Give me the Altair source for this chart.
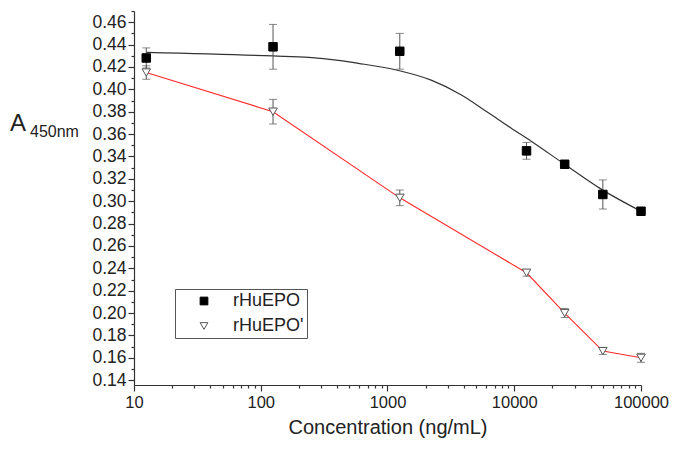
import altair as alt
import pandas as pd

FONT = "Liberation Sans"

series_names = ["rHuEPO", "rHuEPO'"]
conc = [12.5, 125, 1250, 12500, 25000, 50000, 100000]
epo_val = [0.428, 0.438, 0.434, 0.345, 0.333, 0.306, 0.291]
epo_err = [0.009, 0.020, 0.016, 0.0075, 0.002, 0.013, 0.001]
epo2_val = [0.415, 0.380, 0.303, 0.236, 0.200, 0.166, 0.160]
epo2_err = [0.006, 0.011, 0.007, 0.003, 0.004, 0.003, 0.004]

fit_conc = [12.5, 125, 240, 410, 590, 1220, 2210, 3830, 6210, 9470, 13600, 24300, 48100, 100000]
fit_val = [0.433, 0.4298, 0.4285, 0.4258, 0.4232, 0.4168, 0.4082, 0.3950, 0.3792, 0.3652, 0.3536, 0.3339, 0.3110, 0.2910]

x_ticks = [10, 20, 30, 40, 50, 60, 70, 80, 90,
           100, 200, 300, 400, 500, 600, 700, 800, 900,
           1000, 2000, 3000, 4000, 5000, 6000, 7000, 8000, 9000,
           10000, 20000, 30000, 40000, 50000, 60000, 70000, 80000, 90000, 100000]
y_ticks = [0.14, 0.15, 0.16, 0.17, 0.18, 0.19, 0.20, 0.21, 0.22, 0.23, 0.24, 0.25,
           0.26, 0.27, 0.28, 0.29, 0.30, 0.31, 0.32, 0.33, 0.34, 0.35, 0.36, 0.37,
           0.38, 0.39, 0.40, 0.41, 0.42, 0.43, 0.44, 0.45, 0.46, 0.47]

pts = pd.DataFrame({
    "conc": conc + conc,
    "val": epo_val + epo2_val,
    "err": epo_err + epo2_err,
    "series": [series_names[0]] * len(conc) + [series_names[1]] * len(conc),
})
pts["lo"] = pts["val"] - pts["err"]
pts["hi"] = pts["val"] + pts["err"]
fit = pd.DataFrame({"conc": fit_conc, "val": fit_val})
red = pts[pts["series"] == series_names[1]]

xs = alt.Scale(type="log", domain=[10, 100000], nice=False)
ys = alt.Scale(domain=[0.1357, 0.47], nice=False, zero=False)

dec_test = "indexof([10,100,1000,10000,100000], datum.value) >= 0"
ymaj_test = "abs(datum.value*50 - round(datum.value*50)) < 0.001"

x_axis = alt.Axis(
    values=x_ticks, grid=False, title="Concentration (ng/mL)",
    labelExpr=f"{dec_test} ? format(datum.value, 'd') : ''",
    tickSize={"condition": {"test": dec_test, "value": 6}, "value": 3},
    labelOverlap=False, labelFlush=False, labelPadding=3, labelBound=False,
    labelFontSize=16.5, labelFont=FONT, labelColor="#222",
    titleFontSize=20, titleFont=FONT, titleFontWeight="normal", titleColor="#222",
    titlePadding=7,
    domainColor="#333", tickColor="#333", domainWidth=1.2, tickWidth=1.2,
)
y_axis = alt.Axis(
    values=y_ticks, grid=False, title=None,
    labelExpr=f"{ymaj_test} ? format(datum.value, '.2f') : ''",
    tickSize={"condition": {"test": ymaj_test, "value": 6}, "value": 3},
    labelOverlap=False, labelFlush=False, labelPadding=2, labelBound=False,
    labelFontSize=17.5, labelFont=FONT, labelColor="#222",
    domainColor="#333", tickColor="#333", domainWidth=1.2, tickWidth=1.2,
)

X = alt.X("conc:Q", scale=xs, axis=x_axis, title="Concentration (ng/mL)")
Y = alt.Y("val:Q", scale=ys, axis=y_axis, title=None)
Ylo = alt.Y("lo:Q", scale=ys, axis=y_axis, title=None)
Yhi = alt.Y("hi:Q", scale=ys, axis=y_axis, title=None)

fit_line = alt.Chart(fit).mark_line(color="#333", strokeWidth=1.2, interpolate="monotone").encode(x=X, y=Y)
red_line = alt.Chart(red).mark_line(color="#ff2a2a", strokeWidth=1.1).encode(x=X, y=Y)

err_rule = alt.Chart(pts).mark_rule(color="#555", strokeWidth=1).encode(x=X, y=Ylo, y2="hi:Q")
cap_lo = alt.Chart(pts).mark_tick(color="#555", size=8, thickness=1, orient="horizontal").encode(x=X, y=Ylo)
cap_hi = alt.Chart(pts).mark_tick(color="#555", size=8, thickness=1, orient="horizontal").encode(x=X, y=Yhi)

legend = alt.Legend(
    title=None, orient="none", legendX=41, legendY=278,
    strokeColor="#555", fillColor="white", padding=3,
    labelFontSize=18, labelFont=FONT, labelColor="#222",
    symbolSize=60, symbolOffset=17, labelOffset=20, rowPadding=7,
    symbolStrokeWidth=1,
)
points = alt.Chart(pts).mark_point(size=72, strokeWidth=1, opacity=1).encode(
    x=X, y=Y,
    shape=alt.Shape("series:N", scale=alt.Scale(domain=series_names, range=["square", "triangle-down"]), legend=legend),
    fill=alt.Fill("series:N", scale=alt.Scale(domain=series_names, range=["#000000", "#ffffff"]), legend=legend),
    stroke=alt.Stroke("series:N", scale=alt.Scale(domain=series_names, range=["#000000", "#555555"]), legend=legend),
)

one = pd.DataFrame({"a": [0]})
title_a = alt.Chart(one).mark_text(text="A", fontSize=24, font=FONT, align="left", baseline="alphabetic", color="#222").encode(
    x=alt.value(-124), y=alt.value(120))
title_sub = alt.Chart(one).mark_text(text="450nm", fontSize=16, font=FONT, align="left", baseline="alphabetic", color="#222").encode(
    x=alt.value(-104), y=alt.value(126))

chart = alt.layer(fit_line, red_line, err_rule, cap_lo, cap_hi, points, title_a, title_sub).properties(
    width=507, height=374,
    autosize="none",
    padding={"left": 126, "top": 3, "right": 28, "bottom": 55},
    background="white",
).configure_view(stroke=None).configure_axis(labelOverlap=False)

chart.save("out.html", embed_options={"renderer": "svg", "actions": False})
